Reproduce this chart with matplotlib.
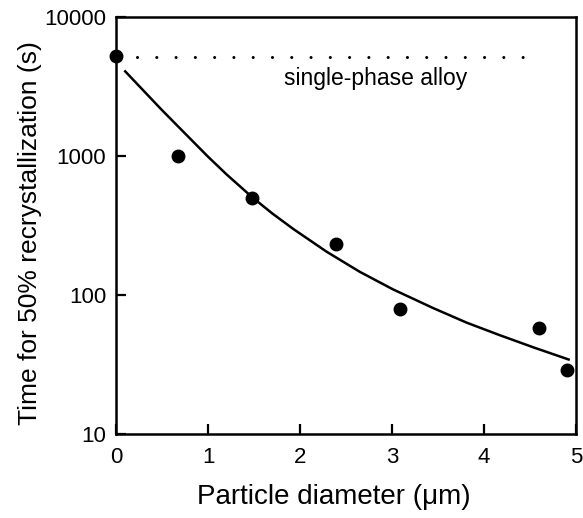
import numpy as np
import matplotlib
matplotlib.use('Agg')
import matplotlib.pyplot as plt

plt.rcParams.update({'font.family': ['Liberation Sans', 'DejaVu Sans']})

# measured recrystallisation times
diameter = [0.0, 0.67, 1.48, 2.39, 3.09, 4.6, 4.9]
time_50 = [5250, 1000, 500, 235, 80, 58, 29]

# fitted curve
fit_diameter = [0.1, 0.5, 1.0, 1.2, 1.48, 1.7, 1.93, 2.29, 2.65, 3.01, 3.45, 3.81, 4.17, 4.54, 4.92]
fit_time = [4070, 2140, 990, 740, 506, 386, 298, 205, 147, 110, 80.5, 63.4, 51.5, 42, 34.4]

# single-phase reference level
single_phase_time = 5150
single_phase_range = [0.23, 4.55]

fig = plt.figure(figsize=(5.83, 5.18), dpi=100)
ax = fig.add_axes([0.199, 0.162, 0.789, 0.805])

ax.plot(fit_diameter, fit_time, color='black', lw=1.8)
ax.plot(diameter, time_50, 'o', color='black', markersize=9, clip_on=False, zorder=5)
ax.hlines(single_phase_time, single_phase_range[0], single_phase_range[1],
          colors='black', lw=2.2, linestyles=(0, (0.01, 6.3)), capstyle='round')
ax.text(1.83, 3630, 'single-phase alloy', fontsize=16.5, va='center', ha='left')

ax.set_yscale('log')
ax.set_xlim(0, 5)
ax.set_ylim(10, 10000)
ax.set_xticks([0, 1, 2, 3, 4, 5])
ax.set_yticks([10, 100, 1000, 10000])
ax.set_yticklabels(['10', '100', '1000', '10000'])
ax.minorticks_off()
ax.tick_params(direction='in', length=7, width=1.6, labelsize=16, top=False, right=False)
ax.tick_params(axis='x', pad=9)
ax.tick_params(axis='y', pad=7)
for s in ax.spines.values():
  s.set_linewidth(1.8)

ax.set_xlabel('Particle diameter (μm)', fontsize=20, labelpad=12)
ax.xaxis.label.set_x(0.473)
ax.set_ylabel('Time for 50% recrystallization (s)', fontsize=19)
ax.yaxis.set_label_coords(-0.161, 0.482)

fig.savefig('out.png', dpi=100)
